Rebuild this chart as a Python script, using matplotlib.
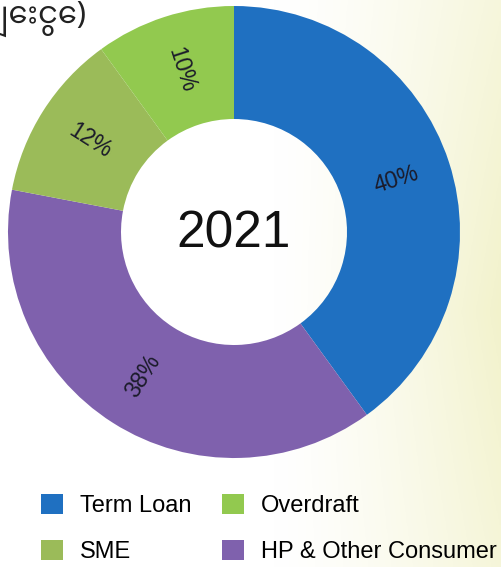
import numpy as np
import matplotlib
matplotlib.use("Agg")
import matplotlib.pyplot as plt
from matplotlib.patches import Patch

# ---- data ----
categories = ["Term Loan", "HP & Other Consumer", "SME", "Overdraft"]
values = [40, 38, 12, 10]
colors = ["#1F70C1", "#7F61AD", "#9BBB59", "#92C94F"]
center_label = "2021"
legend_order = ["Term Loan", "SME", "Overdraft", "HP & Other Consumer"]
title_fragment = "ချေးငွေ)"

plt.rcParams['font.family'] = ['Liberation Sans', 'DejaVu Sans']

W, H = 501, 567
fig = plt.figure(figsize=(W / 100, H / 100), dpi=100)

# soft watercolor-like background on the right
bg = fig.add_axes([0, 0, 1, 1], zorder=0)
xx, yy = np.meshgrid(np.linspace(0, 1, 200), np.linspace(0, 1, 220))
t = np.clip((xx - 0.55) / 0.45, 0, 1) ** 1.3
t = t * (0.6 + 0.4 * np.clip(1 - np.abs(yy - 0.45) / 0.7, 0, 1))
white = np.array([1.0, 1.0, 1.0])
pale = np.array([0.95, 0.95, 0.80])
img = white[None, None, :] * (1 - t[..., None]) + pale[None, None, :] * t[..., None]
bg.imshow(img, extent=[0, 1, 0, 1], aspect="auto", origin="lower")
bg.set_axis_off()

# donut
cx, cy, R = 234, 232, 226
ax = fig.add_axes([(cx - R) / W, 1 - (cy + R) / H, 2 * R / W, 2 * R / H], zorder=1)
ax.patch.set_alpha(0)
wedges, texts, autotexts = ax.pie(
    values, colors=colors, startangle=90, counterclock=False,
    wedgeprops=dict(width=0.5, edgecolor="none"),
    autopct=lambda p: f"{p:.0f}%", pctdistance=0.755,
    textprops=dict(fontsize=16.5, color="#1b1b2a"))
for w, at in zip(wedges, autotexts):
    mid = (w.theta1 + w.theta2) / 2.0
    rot = mid
    if rot > 90:
        rot -= 180
    elif rot < -90:
        rot += 180
    at.set_rotation(rot)
    at.set_rotation_mode("anchor")
    at.set_ha("center")
    at.set_va("center")
ax.set_xlim(-1, 1)
ax.set_ylim(-1, 1)
ax.set_aspect("equal")
ax.text(0, -0.01, center_label, ha="center", va="center", fontsize=37, color="#111111")

# title fragment (clipped at top-left in the original)
fig.text(-20 / W, 1 - 19 / H, title_fragment, ha="left", va="center", fontsize=22,
         color="#222222", family=["Noto Sans Myanmar", "Padauk", "Myanmar Text", "DejaVu Sans"])

# legend
color_map = dict(zip(categories, colors))
handles = [Patch(facecolor=color_map[c], edgecolor="none", label=c) for c in legend_order]
fig.legend(handles=handles, loc="upper left", bbox_to_anchor=(22 / W, 1 - 475 / H),
           ncol=2, frameon=False, fontsize=17, handlelength=0.95, handleheight=0.95,
           handletextpad=0.7, columnspacing=1.3, labelspacing=0.95, borderpad=0.3)

fig.savefig("out.png", dpi=100)
